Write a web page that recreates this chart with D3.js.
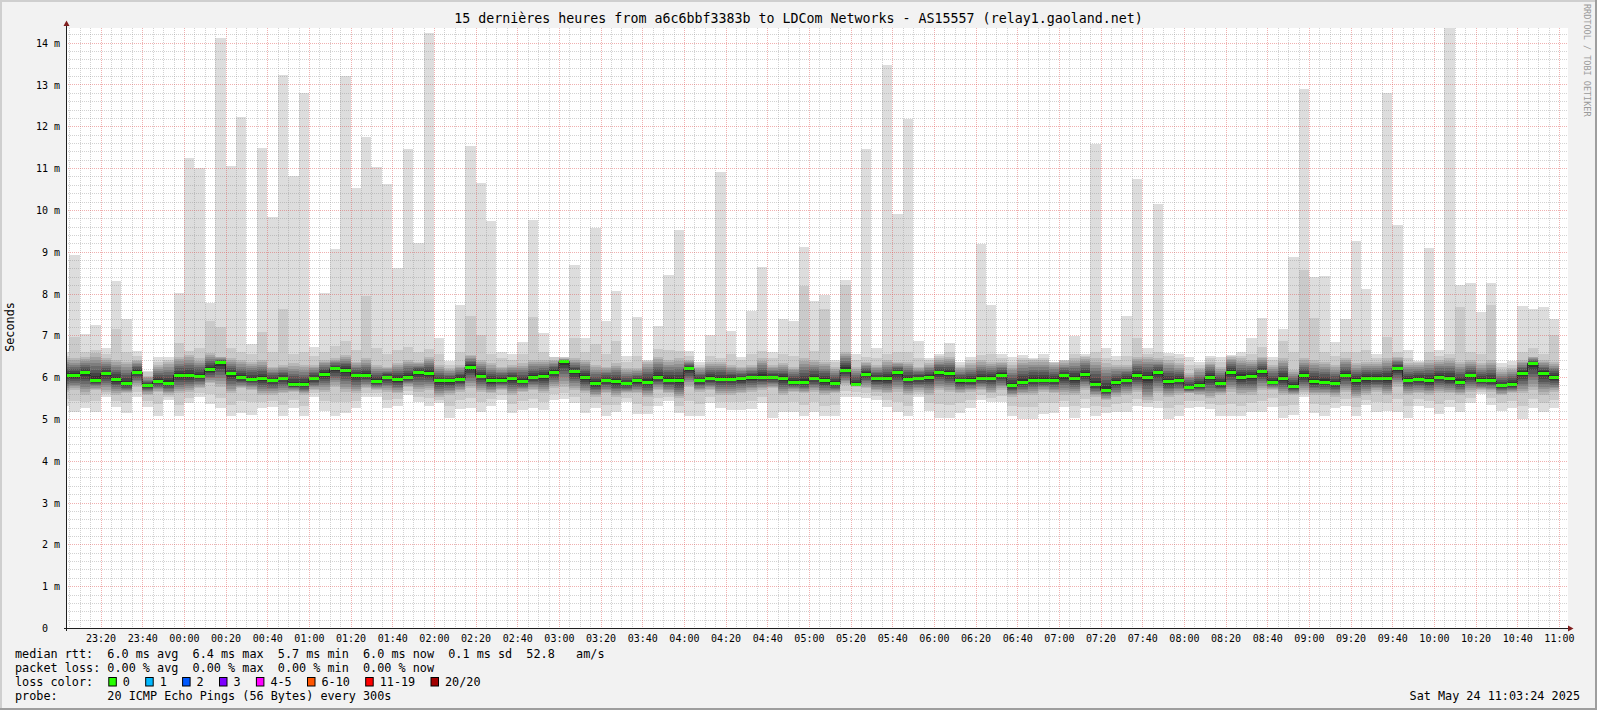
<!DOCTYPE html>
<html><head><meta charset="utf-8">
<script src="https://cdn.jsdelivr.net/npm/d3@7"></script>
<style>
body{margin:0;background:#f2f2f2;overflow:hidden}
svg{display:block}
text{font-family:"DejaVu Sans Mono",monospace;white-space:pre}
</style>
</head><body>
<svg id="c" width="1597" height="710"></svg>
<script>
// ---------- data (values in ms) ----------
const firstBinStart = "2025-05-23 23:00";   // first 5-minute bin
const stepMinutes = 5;
const rttMax = [6.60,8.92,7.03,7.25,6.69,8.31,7.39,6.63,6.15,6.48,
6.48,8.01,11.25,11.01,7.78,14.11,11.06,12.22,6.79,11.49,
9.82,13.22,10.81,12.80,6.73,8.01,9.06,13.20,10.53,11.75,
11.03,10.62,8.62,11.46,9.20,14.24,6.94,6.39,7.72,11.53,
10.64,9.74,6.60,6.55,6.83,9.76,7.05,6.49,6.49,8.68,
6.94,9.57,7.34,8.06,6.51,7.44,6.41,7.22,8.44,9.52,
6.63,6.37,7.01,10.90,7.10,6.49,7.59,8.63,6.59,7.39,
7.34,9.11,7.82,7.97,6.41,8.32,6.55,11.46,6.69,13.46,
9.90,12.17,6.87,6.45,6.55,6.82,6.37,6.49,9.19,7.72,
6.55,6.47,6.53,6.45,6.55,6.37,6.41,6.99,6.55,11.57,
6.69,6.51,7.46,10.74,6.69,10.14,6.57,6.55,6.47,6.37,
6.51,6.49,6.53,6.59,6.94,7.41,6.49,7.15,8.87,12.90,
8.39,8.42,6.83,7.38,9.26,8.11,6.55,12.80,9.64,6.65,
6.39,9.08,6.65,14.60,8.20,8.24,7.55,8.24,6.33,6.39,
7.70,7.62,7.67,7.38];
const rttSecond = [6.50,6.97,6.60,6.65,6.55,7.15,6.60,6.50,6.12,6.35,
6.40,6.82,6.62,6.70,7.34,7.21,6.70,6.60,6.55,7.09,
6.60,7.63,6.55,6.60,6.50,6.60,6.75,6.87,6.65,7.93,
6.70,6.55,6.65,6.71,6.60,6.67,6.55,6.30,6.60,7.47,
7.01,6.55,6.45,6.40,6.55,7.45,6.60,6.47,6.47,6.94,
6.60,6.79,6.55,6.87,6.35,6.50,6.39,6.67,6.65,6.63,
6.50,6.30,6.50,6.45,6.55,6.40,6.55,6.63,6.45,6.55,
6.50,8.19,6.63,7.63,6.35,8.20,6.40,6.49,6.45,6.55,
6.60,6.60,6.45,6.40,6.50,6.60,6.30,6.40,6.53,6.55,
6.45,6.35,6.45,6.43,6.45,6.35,6.41,6.55,6.50,6.60,
6.45,6.40,6.50,6.93,6.55,6.60,6.50,6.45,6.30,6.30,
6.45,6.35,6.50,6.50,6.55,6.73,6.40,6.87,6.60,8.56,
7.42,6.60,6.50,6.60,6.60,6.65,6.45,6.97,6.60,6.45,
6.35,6.60,6.50,6.55,7.68,6.60,6.55,7.72,6.25,6.30,
6.60,6.70,6.55,7.01];
const rttCoreHigh = [6.45,6.45,6.49,6.57,6.45,6.41,6.37,6.41,6.02,6.29,
6.37,6.49,6.53,6.45,6.57,6.49,6.45,6.41,6.37,6.41,
6.25,6.29,6.33,6.29,6.29,6.41,6.45,6.53,6.37,6.45,
6.29,6.25,6.33,6.41,6.37,6.49,6.29,6.21,6.29,6.53,
6.41,6.33,6.25,6.29,6.33,6.41,6.41,6.42,6.45,6.45,
6.41,6.29,6.25,6.33,6.21,6.21,6.37,6.49,6.41,6.45,
6.41,6.25,6.37,6.37,6.29,6.25,6.29,6.45,6.29,6.33,
6.25,6.45,6.41,6.37,6.25,6.61,6.25,6.37,6.29,6.41,
6.37,6.37,6.25,6.33,6.45,6.49,6.25,6.33,6.41,6.37,
6.37,6.29,6.41,6.41,6.41,6.33,6.38,6.45,6.49,6.45,
6.33,6.29,6.29,6.49,6.49,6.45,6.41,6.33,6.10,6.21,
6.37,6.25,6.49,6.45,6.41,6.49,6.29,6.45,6.17,6.45,
6.41,6.37,6.29,6.45,6.33,6.37,6.37,6.45,6.49,6.33,
6.33,6.41,6.41,6.45,6.37,6.41,6.33,6.41,6.17,6.21,
6.41,6.49,6.41,6.37];
const rttMedian = [6.05,6.04,6.10,5.93,6.08,5.94,5.84,6.12,5.81,5.89,
5.85,6.04,6.04,6.02,6.18,6.34,6.08,5.98,5.95,5.97,
5.92,5.97,5.82,5.82,5.96,6.07,6.20,6.16,6.04,6.04,
5.89,6.00,5.94,6.00,6.12,6.08,5.91,5.91,5.95,6.24,
6.02,5.91,5.93,5.97,5.89,5.99,6.02,6.12,6.37,6.13,
5.99,5.84,5.92,5.89,5.84,5.91,5.88,5.99,5.93,5.91,
6.20,5.91,5.96,5.95,5.95,5.96,5.99,6.00,5.99,5.97,
5.88,5.88,5.97,5.91,5.84,6.17,5.83,6.07,5.96,5.96,
6.11,5.95,5.97,6.00,6.11,6.08,5.91,5.91,5.97,5.97,
6.05,5.79,5.88,5.93,5.93,5.93,6.03,5.96,6.06,5.82,
5.69,5.87,5.93,6.03,5.99,6.11,5.89,5.92,5.75,5.81,
6.00,5.84,6.12,6.00,6.01,6.13,5.88,5.96,5.77,6.04,
5.89,5.88,5.85,6.05,5.92,5.97,5.97,5.97,6.21,5.93,
5.95,5.91,6.00,5.96,5.88,6.03,5.91,5.91,5.79,5.83,
6.09,6.33,6.09,5.99];
const rttCoreLow = [5.65,5.69,5.58,5.69,5.65,5.58,5.61,5.77,5.58,5.65,
5.58,5.61,5.65,5.73,5.85,5.77,5.61,5.73,5.69,5.58,
5.58,5.61,5.65,5.58,5.69,5.65,5.77,5.65,5.61,5.73,
5.69,5.65,5.61,5.77,5.65,5.69,5.53,5.58,5.65,5.73,
5.65,5.61,5.69,5.58,5.65,5.69,5.61,5.73,5.77,5.69,
5.61,5.53,5.61,5.53,5.61,5.61,5.53,5.69,5.61,5.49,
5.77,5.65,5.69,5.58,5.58,5.61,5.65,5.69,5.73,5.58,
5.65,5.61,5.65,5.58,5.61,5.81,5.77,5.73,5.65,5.61,
5.65,5.58,5.65,5.58,5.69,5.65,5.61,5.65,5.69,5.61,
5.69,5.53,5.58,5.58,5.65,5.61,5.58,5.58,5.69,5.53,
5.45,5.53,5.58,5.65,5.45,5.61,5.53,5.58,5.61,5.58,
5.49,5.58,5.65,5.58,5.58,5.69,5.69,5.58,5.58,5.65,
5.58,5.58,5.53,5.65,5.49,5.58,5.65,5.58,5.77,5.58,
5.61,5.58,5.61,5.61,5.58,5.65,5.69,5.65,5.58,5.61,
5.61,5.69,5.58,5.65];
const rttMin = [5.30,5.17,5.25,5.17,5.53,5.29,5.15,5.53,5.28,5.08,
5.45,5.08,5.37,5.53,5.36,5.25,5.08,5.15,5.10,5.25,
5.29,5.06,5.25,5.06,5.53,5.20,5.06,5.14,5.25,5.53,
5.53,5.27,5.32,5.57,5.40,5.32,5.37,5.03,5.24,5.25,
5.17,5.32,5.45,5.14,5.21,5.25,5.21,5.45,5.47,5.37,
5.14,5.25,5.08,5.16,5.40,5.11,5.11,5.32,5.43,5.14,
5.08,5.06,5.37,5.25,5.21,5.21,5.23,5.37,5.03,5.16,
5.16,5.08,5.16,5.06,5.08,5.53,5.53,5.49,5.45,5.29,
5.16,5.06,5.53,5.19,5.03,5.03,5.14,5.27,5.45,5.40,
5.40,5.08,5.00,5.00,5.11,5.14,5.29,5.03,5.25,5.08,
5.14,5.17,5.17,5.32,5.29,5.27,5.00,5.08,5.25,5.29,
5.23,5.08,5.06,5.06,5.17,5.17,5.29,5.03,5.10,5.52,
5.14,5.08,5.25,5.32,5.06,5.33,5.17,5.19,5.17,5.03,
5.32,5.27,5.11,5.29,5.17,5.37,5.59,5.33,5.19,5.25,
5.00,5.27,5.16,5.25];
const timeTickLabels = ["23:20","23:40","00:00","00:20","00:40","01:00","01:20","01:40","02:00","02:20","02:40","03:00","03:20","03:40","04:00","04:20","04:40","05:00","05:20","05:40","06:00","06:20","06:40","07:00","07:20","07:40","08:00","08:20","08:40","09:00","09:20","09:40","10:00","10:20","10:40","11:00"];
const yTickValues = [0,1,2,3,4,5,6,7,8,9,10,11,12,13,14];
const lossNames = ["0","1","2","3","4-5","6-10","11-19","20/20"];
const lossColors = ["#26ff00","#00b8ff","#0059ff","#7e00ff","#ff00ff","#ff5500","#ff0000","#a10000"];
const titleText = "15 dernières heures from a6c6bbf3383b to LDCom Networks - AS15557 (relay1.gaoland.net)";
const legendLines = [
  "median rtt:  6.0 ms avg  6.4 ms max  5.7 ms min  6.0 ms now  0.1 ms sd  52.8   am/s",
  "packet loss: 0.00 % avg  0.00 % max  0.00 % min  0.00 % now",
  "loss color:",
  "probe:       20 ICMP Echo Pings (56 Bytes) every 300s"
];
const dateText = "Sat May 24 11:03:24 2025";

// ---------- layout ----------
const W = 1597, H = 710;
const P = {l: 66, r: 1568, t: 28, b: 628};
const parse = d3.timeParse("%Y-%m-%d %H:%M");
const t0 = parse(firstBinStart);
const winStart = new Date(2025,4,23,23,3,24), winEnd = new Date(2025,4,24,11,3,24);
const x = d3.scaleTime().domain([winStart, winEnd]).range([66, 1566]);
const y = d3.scaleLinear().domain([0, 14.35]).range([P.b, P.t]);

const svg = d3.select("#c");
svg.append("rect").attr("width",W).attr("height",H).attr("fill","#f2f2f2");
svg.append("path").attr("d",`M0,0H${W}V2H2V${H}H0Z`).attr("fill","#cfcfcf");
svg.append("path").attr("d",`M${W},${H}H0V${H-2}H${W-2}V0H${W}Z`).attr("fill","#9e9e9e");
svg.append("rect").attr("x",P.l).attr("y",P.t).attr("width",P.r-P.l).attr("height",P.b-P.t).attr("fill","#ffffff");

svg.append("clipPath").attr("id","clip").append("rect")
  .attr("x",P.l+0.5).attr("y",P.t).attr("width",P.r-P.l-0.5).attr("height",P.b-P.t);

const bins = rttMedian.map((m,i)=>({
  a: d3.timeMinute.offset(t0, stepMinutes*i),
  b: d3.timeMinute.offset(t0, stepMinutes*(i+1)),
  max: rttMax[i], sec: rttSecond[i], hi: rttCoreHigh[i], med: m, lo: rttCoreLow[i], min: rttMin[i]
}));

const g = svg.append("g").attr("clip-path","url(#clip)");
function grey(k){ const v = Math.floor(190/10*(10-k))+50; return `rgb(${v},${v},${v})`; }
// smoke layers: outer (min..max), second (..second highest), then nested core shades around the median
const layers = [];
layers.push({c: grey(1), lo: d=>d.min, hi: d=>d.max});
layers.push({c: grey(2), lo: d=>(d.min+d.lo)/2, hi: d=>d.sec});
for (let k=3;k<=10;k++){
  const f=(k-3)/7*0.86;
  layers.push({c: grey(k), lo: d=>d.lo+(d.med-d.lo)*f, hi: d=>d.hi-(d.hi-d.med)*f});
}
layers.forEach(L=>{
  g.append("g").attr("shape-rendering","crispEdges").selectAll("rect").data(bins).join("rect")
    .attr("x",d=>x(d.a)).attr("width",d=>x(d.b)-x(d.a))
    .attr("y",d=>y(L.hi(d))).attr("height",d=>Math.max(0,y(L.lo(d))-y(L.hi(d))))
    .attr("fill",L.c);
});
// median step line + loss-coloured median band
const pts = bins.map(d=>[x(d.a), y(d.med)]);
pts.push([x(bins[bins.length-1].b), y(bins[bins.length-1].med)]);
g.append("path").attr("d", d3.line().curve(d3.curveStepAfter)(pts))
  .attr("fill","none").attr("stroke","#202020").attr("stroke-width",1);
g.append("g").attr("shape-rendering","crispEdges").selectAll("rect").data(bins).join("rect")
  .attr("x",d=>x(d.a)).attr("width",d=>x(d.b)-x(d.a))
  .attr("y",d=>y(d.med)-1.5).attr("height",3).attr("fill",lossColors[0]);

// grid (drawn over the data, like rrdtool)
const grid = svg.append("g");
const minorT = d3.timeMinute.every(5).range(d3.timeMinute.ceil(winStart), winEnd);
const majorT = timeTickLabels.map(s=>{const [h,m]=s.split(":").map(Number); return new Date(2025,4,h>=12?23:24,h,m);});
const majorSet = new Set(majorT.map(d=>+d));
const minorColor = "rgba(143,143,143,0.4)", majorColor = "rgba(222,79,79,0.45)";
minorT.filter(d=>!majorSet.has(+d)).forEach(d=>{
  const xx = Math.round(x(d))+0.5;
  grid.append("line").attr("x1",xx).attr("x2",xx).attr("y1",P.t).attr("y2",P.b)
    .attr("stroke",minorColor).attr("stroke-dasharray","1,1");
});
d3.range(1,72).filter(i=>i%5!==0).map(i=>i*0.2).forEach(v=>{
  const yy = Math.round(y(v))+0.5;
  grid.append("line").attr("x1",P.l).attr("x2",P.r).attr("y1",yy).attr("y2",yy)
    .attr("stroke",minorColor).attr("stroke-dasharray","1,1");
});
majorT.forEach(d=>{
  const xx = Math.round(x(d))+0.5;
  grid.append("line").attr("x1",xx).attr("x2",xx).attr("y1",P.t).attr("y2",P.b)
    .attr("stroke",majorColor).attr("stroke-dasharray","1,1");
});
yTickValues.filter(v=>v>0).forEach(v=>{
  const yy = Math.round(y(v))+0.5;
  grid.append("line").attr("x1",P.l).attr("x2",P.r).attr("y1",yy).attr("y2",yy)
    .attr("stroke",majorColor).attr("stroke-dasharray","1,1");
});

// axes
const xa = svg.append("g").attr("transform",`translate(0,${P.b})`)
  .call(d3.axisBottom(x).tickValues(majorT).tickFormat(d3.timeFormat("%H:%M")).tickSize(0).tickPadding(6.5));
xa.select(".domain").remove();
xa.selectAll("text").attr("font-family","DejaVu Sans Mono").attr("font-size","10px").attr("fill","#000");
const ya = svg.append("g").attr("transform",`translate(${P.l},0)`)
  .call(d3.axisLeft(y).tickValues(yTickValues).tickFormat(v=>v===0?"0  ":v+" m").tickSize(0).tickPadding(6));
ya.select(".domain").remove();
ya.selectAll("text").attr("font-family","DejaVu Sans Mono").attr("font-size","10px").attr("fill","#000").attr("dy","0.36em");

svg.append("line").attr("x1",64).attr("x2",1569).attr("y1",P.b+0.5).attr("y2",P.b+0.5).attr("stroke","#1f1f1f");
svg.append("line").attr("x1",66.5).attr("x2",66.5).attr("y1",631).attr("y2",25).attr("stroke","#1f1f1f");
svg.append("path").attr("d","M63.5,26L69.5,26L66.5,20.5Z").attr("fill","#801f1f");
svg.append("path").attr("d","M1568,625.5L1568,631.5L1573.5,628.5Z").attr("fill","#801f1f");

// title & labels
svg.append("text").attr("x",798.5).attr("y",23).attr("text-anchor","middle")
  .attr("font-size","13.3px").text(titleText);
svg.append("text").attr("transform","translate(14,327) rotate(-90)").attr("text-anchor","middle")
  .attr("font-size","11.8px").text("Seconds");
svg.append("text").attr("transform","translate(1584,4) rotate(90)").attr("font-size","8.5px")
  .attr("fill","#9a9a9a").text("RRDTOOL / TOBI OETIKER");

// legend
const legX = 15, cw = 7.1, base = [658, 672, 686, 700];
legendLines.forEach((s,i)=>{
  svg.append("text").attr("x",legX).attr("y",base[i]).attr("font-size","11.8px").text(s);
});
let cur = 108.3;
lossNames.forEach((n,i)=>{
  svg.append("rect").attr("x",cur+0.5).attr("y",677.5).attr("width",7.5).attr("height",8.5)
    .attr("fill",lossColors[i]).attr("stroke","#000").attr("stroke-width",1);
  const tx = cur+14.5;
  svg.append("text").attr("x",tx).attr("y",base[2]).attr("font-size","11.8px").text(n);
  cur = tx + n.length*cw + 15.3;
});
svg.append("text").attr("x",1580).attr("y",base[3]).attr("text-anchor","end").attr("font-size","11.8px").text(dateText);
</script>
</body></html>
